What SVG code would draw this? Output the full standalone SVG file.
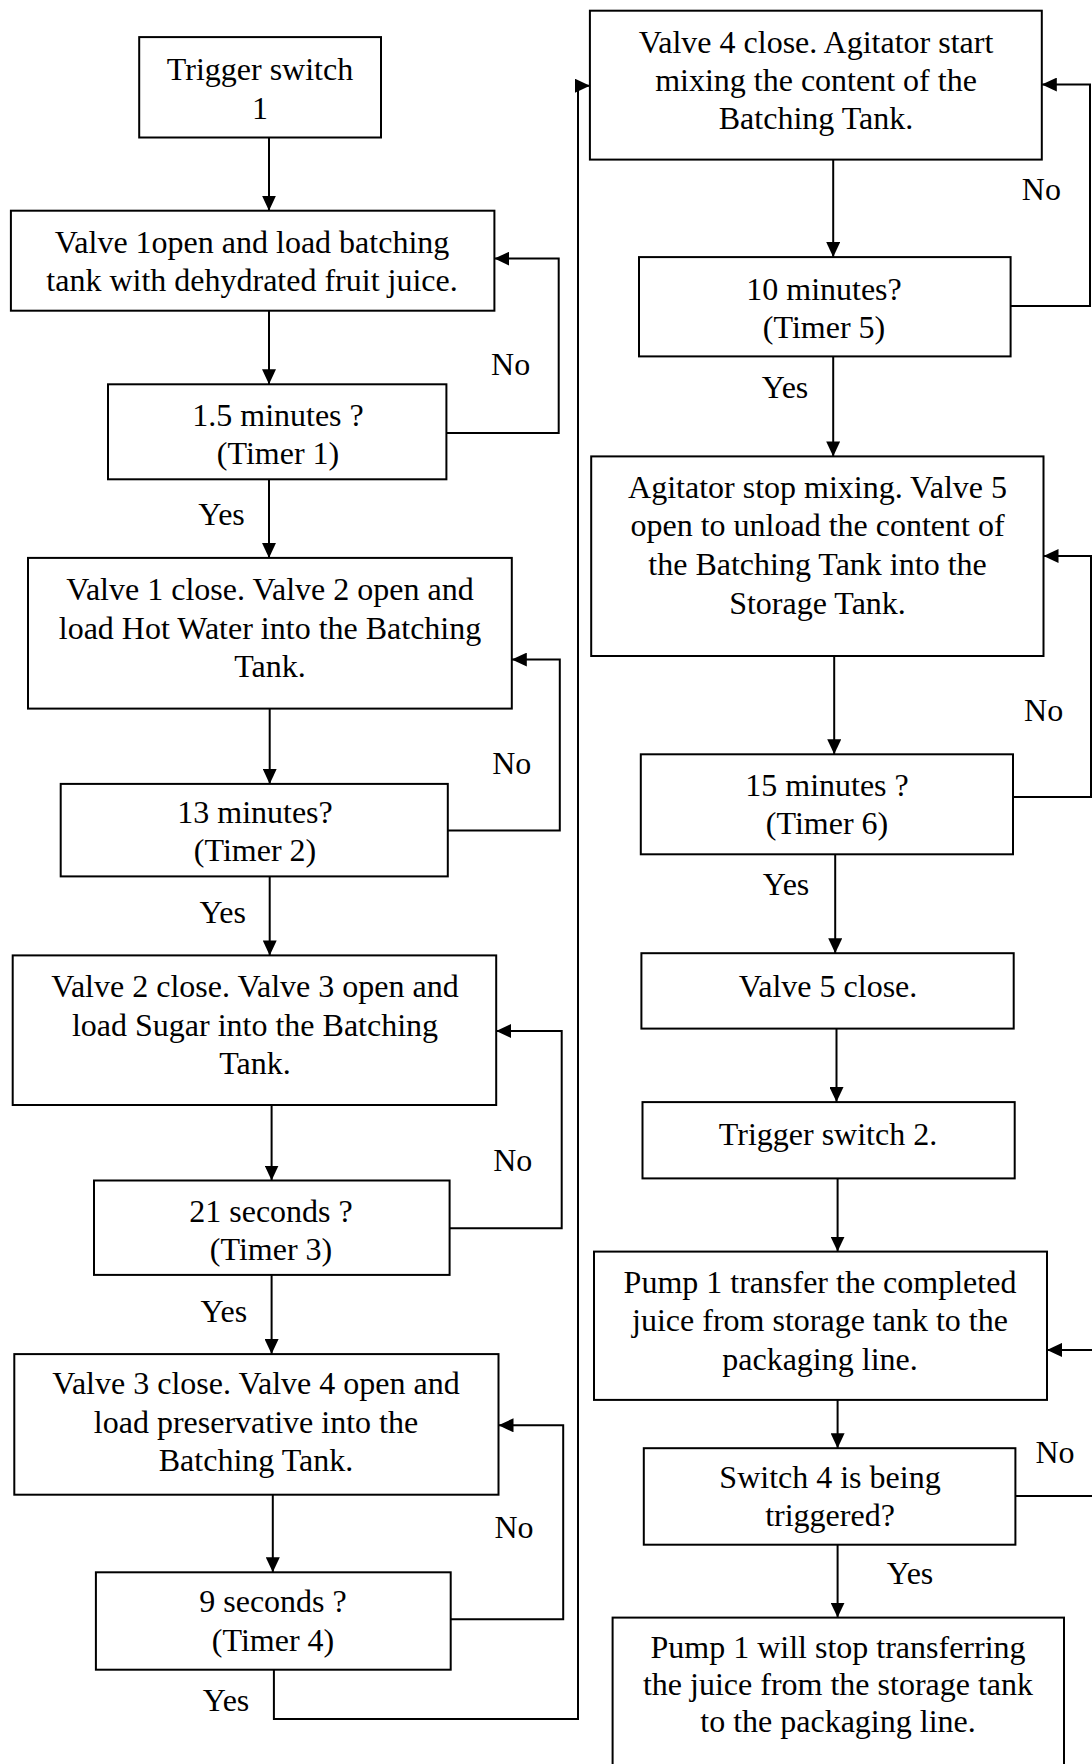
<svg xmlns="http://www.w3.org/2000/svg" width="1092" height="1764" viewBox="0 0 1092 1764">
<style>
.b{fill:#fff;stroke:#000;stroke-width:2}
.t{font-family:"Liberation Serif","Times New Roman",serif;font-size:32px;fill:#000;text-anchor:middle}
.c{fill:none;stroke:#000;stroke-width:2}
</style>
<defs>
<marker id="ah" markerUnits="userSpaceOnUse" markerWidth="16" markerHeight="14" refX="15" refY="7" orient="auto">
<path d="M0,0 L15,7 L0,14 z" fill="#000"/>
</marker>
</defs>
<rect width="1092" height="1764" fill="#fff"/>
<g id="connectors">
<path class="c" d="M269,137.5 V210.7" marker-end="url(#ah)"/>
<path class="c" d="M269,310.7 V384.3" marker-end="url(#ah)"/>
<path class="c" d="M446.4,432.9 H558.7 V258.6 H494.4" marker-end="url(#ah)"/>
<path class="c" d="M269,479.3 V557.9" marker-end="url(#ah)"/>
<path class="c" d="M269.7,708.6 V783.9" marker-end="url(#ah)"/>
<path class="c" d="M447.8,830.4 H559.8 V659.6 H511.8" marker-end="url(#ah)"/>
<path class="c" d="M269.7,876.4 V955.4" marker-end="url(#ah)"/>
<path class="c" d="M271.6,1105 V1180.5" marker-end="url(#ah)"/>
<path class="c" d="M449.6,1228.3 H561.7 V1031 H496.2" marker-end="url(#ah)"/>
<path class="c" d="M271.6,1275 V1354.1" marker-end="url(#ah)"/>
<path class="c" d="M272.8,1494.7 V1572.3" marker-end="url(#ah)"/>
<path class="c" d="M450.7,1619.3 H563.2 V1425.3 H498.5" marker-end="url(#ah)"/>
<path class="c" d="M273.9,1669.7 V1719 H578 V85.7 H589.9" marker-end="url(#ah)"/>
<path class="c" d="M833.2,159.6 V257.1" marker-end="url(#ah)"/>
<path class="c" d="M1010.6,306 H1090 V84.6 H1041.8" marker-end="url(#ah)"/>
<path class="c" d="M833.2,356.4 V456.4" marker-end="url(#ah)"/>
<path class="c" d="M834.2,656 V754.3" marker-end="url(#ah)"/>
<path class="c" d="M1013,797 H1091 V556 H1043.5" marker-end="url(#ah)"/>
<path class="c" d="M835.2,854.3 V953.2" marker-end="url(#ah)"/>
<path class="c" d="M836.5,1028.6 V1102.1" marker-end="url(#ah)"/>
<path class="c" d="M837.6,1178.4 V1251.6" marker-end="url(#ah)"/>
<path class="c" d="M837.6,1399.9 V1448.2" marker-end="url(#ah)"/>
<path class="c" d="M1015.4,1496 H1095 V1349.9 H1047" marker-end="url(#ah)"/>
<path class="c" d="M837.6,1544.7 V1617.6" marker-end="url(#ah)"/>
</g>
<g id="labels" class="t">
<text x="221.5" y="525">Yes</text>
<text x="510.6" y="375">No</text>
<text x="511.7" y="773.5">No</text>
<text x="222.7" y="923">Yes</text>
<text x="512.8" y="1170.5">No</text>
<text x="223.8" y="1322.3">Yes</text>
<text x="514" y="1538">No</text>
<text x="226" y="1711.4">Yes</text>
<text x="1041.4" y="200">No</text>
<text x="785" y="398">Yes</text>
<text x="1043.6" y="720.6">No</text>
<text x="786" y="895">Yes</text>
<text x="1055" y="1463">No</text>
<text x="910" y="1584.3">Yes</text>
</g>
<g id="n1"><rect class="b" x="139.2" y="37.1" width="241.8" height="100.4"/><text class="t" x="260" y="80">Trigger switch</text><text class="t" x="260" y="119">1</text></g>
<g id="n2"><rect class="b" x="10.9" y="210.7" width="483.5" height="100"/><text class="t" x="252" y="253">Valve 1open and load batching</text><text class="t" x="252" y="291">tank with dehydrated fruit juice.</text></g>
<g id="n3"><rect class="b" x="108" y="384.3" width="338.4" height="95"/><text class="t" x="278" y="426">1.5 minutes ?</text><text class="t" x="278" y="464">(Timer 1)</text></g>
<g id="n4"><rect class="b" x="28" y="557.9" width="483.8" height="150.7"/><text class="t" x="270" y="600">Valve 1 close. Valve 2 open and</text><text class="t" x="270" y="638.5">load Hot Water into the Batching</text><text class="t" x="270" y="677">Tank.</text></g>
<g id="n5"><rect class="b" x="60.7" y="783.9" width="387.1" height="92.5"/><text class="t" x="255" y="823">13 minutes?</text><text class="t" x="255" y="861">(Timer 2)</text></g>
<g id="n6"><rect class="b" x="12.7" y="955.4" width="483.5" height="149.6"/><text class="t" x="255" y="997">Valve 2 close. Valve 3 open and</text><text class="t" x="255" y="1035.5">load Sugar into the Batching</text><text class="t" x="255" y="1074">Tank.</text></g>
<g id="n7"><rect class="b" x="94" y="1180.5" width="355.6" height="94.4"/><text class="t" x="271" y="1222">21 seconds ?</text><text class="t" x="271" y="1260">(Timer 3)</text></g>
<g id="n8"><rect class="b" x="14.3" y="1354.1" width="484.2" height="140.6"/><text class="t" x="256" y="1394">Valve 3 close. Valve 4 open and</text><text class="t" x="256" y="1432.5">load preservative into the</text><text class="t" x="256" y="1471">Batching Tank.</text></g>
<g id="n9"><rect class="b" x="95.9" y="1572.3" width="354.8" height="97.4"/><text class="t" x="273" y="1612">9 seconds ?</text><text class="t" x="273" y="1651">(Timer 4)</text></g>
<g id="n10"><rect class="b" x="589.9" y="10.7" width="451.9" height="148.9"/><text class="t" x="816" y="52.6">Valve 4 close. Agitator start</text><text class="t" x="816" y="90.8">mixing the content of the</text><text class="t" x="816" y="129">Batching Tank.</text></g>
<g id="n11"><rect class="b" x="639" y="257.1" width="371.6" height="99.3"/><text class="t" x="824" y="300">10 minutes?</text><text class="t" x="824" y="338">(Timer 5)</text></g>
<g id="n12"><rect class="b" x="591.2" y="456.4" width="452.3" height="199.6"/><text class="t" x="817.5" y="498">Agitator stop mixing. Valve 5</text><text class="t" x="817.5" y="536">open to unload the content of</text><text class="t" x="817.5" y="574.5">the Batching Tank into the</text><text class="t" x="817.5" y="613.5">Storage Tank.</text></g>
<g id="n13"><rect class="b" x="640.8" y="754.3" width="372.2" height="100"/><text class="t" x="827" y="796">15 minutes ?</text><text class="t" x="827" y="834">(Timer 6)</text></g>
<g id="n14"><rect class="b" x="641.4" y="953.2" width="372.3" height="75.4"/><text class="t" x="828" y="997">Valve 5 close.</text></g>
<g id="n15"><rect class="b" x="642.5" y="1102.1" width="372.2" height="76.3"/><text class="t" x="828" y="1144.6">Trigger switch 2.</text></g>
<g id="n16"><rect class="b" x="594" y="1251.6" width="453" height="148.3"/><text class="t" x="820" y="1293">Pump 1 transfer the completed</text><text class="t" x="820" y="1331">juice from storage tank to the</text><text class="t" x="820" y="1369.5">packaging line.</text></g>
<g id="n17"><rect class="b" x="643.8" y="1448.2" width="371.6" height="96.5"/><text class="t" x="830" y="1487.6">Switch 4 is being</text><text class="t" x="830" y="1525.8">triggered?</text></g>
<g id="n18"><rect class="b" x="612.6" y="1617.6" width="451.4" height="170"/><text class="t" x="838" y="1658.3">Pump 1 will stop transferring</text><text class="t" x="838" y="1695">the juice from the storage tank</text><text class="t" x="838" y="1731.7">to the packaging line.</text></g>
</svg>
